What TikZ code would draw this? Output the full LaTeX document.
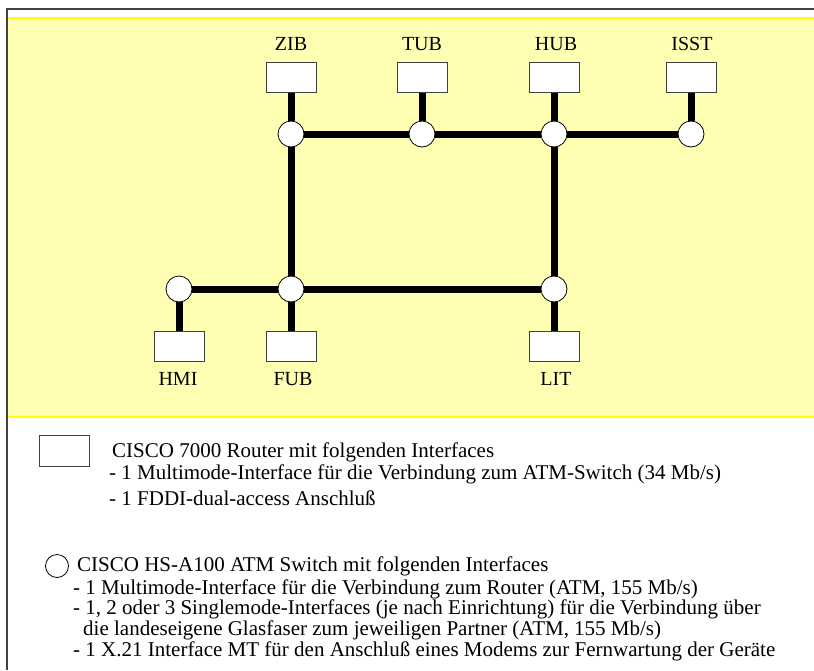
\documentclass[tikz,border=0pt]{standalone}
\usepackage{fontspec}
\setmainfont{Liberation Serif}
\usetikzlibrary{backgrounds}
\definecolor{padyellow}{HTML}{FFFFB4}
\definecolor{rimyellow}{HTML}{FFFF00}
\definecolor{framegray}{HTML}{404040}
\tikzset{
  router/.style={draw=framegray, fill=white, line width=0.8pt, inner sep=0pt,
    minimum width=50pt, minimum height=30pt},
  switch/.style={circle, draw=black, fill=white, line width=0.8pt, inner sep=0pt,
    minimum size=26pt},
  site/.style={anchor=base, inner sep=0pt, font=\fontsize{20}{22}\selectfont},
  keytext/.style={anchor=base west, inner sep=0pt, font=\fontsize{21}{23}\selectfont},
  link/.style={line width=7pt}
}

\begin{document}
\begin{tikzpicture}[x=1pt, y=-1pt]
  \useasboundingbox (0,0) rectangle (814,670);
  % routers and ATM switches of the ring
  \node[router] (zibR)  at (291,77) {};
  \node[router] (tubR)  at (422,77) {};
  \node[router] (hubR)  at (554,77) {};
  \node[router] (isstR) at (691,77) {};
  \node[switch] (zibS)  at (291,134) {};
  \node[switch] (tubS)  at (422,134) {};
  \node[switch] (hubS)  at (554,134) {};
  \node[switch] (isstS) at (691,134) {};
  \node[switch] (hmiS)  at (179,289) {};
  \node[switch] (fubS)  at (291,289) {};
  \node[switch] (litS)  at (554,289) {};
  \node[router] (hmiR)  at (179,346) {};
  \node[router] (fubR)  at (291,346) {};
  \node[router] (litR)  at (554,346) {};
  % site names
  \node[site] (zibT)  at (291,50) {ZIB};
  \node[site] (tubT)  at (422,50) {TUB};
  \node[site] (hubT)  at (556,50) {HUB};
  \node[site] (isstT) at (692,50) {ISST};
  \node[site] (hmiT)  at (178,385) {HMI};
  \node[site] (fubT)  at (293,385) {FUB};
  \node[site] (litT)  at (556,385) {LIT};
  % fibre links, behind the nodes
  \begin{scope}[on background layer]
    \fill[padyellow] (7,18) rectangle (814,417);
    \draw[rimyellow, line width=1.2pt] (7,18) -- (814,18);
    \draw[rimyellow, line width=1.2pt] (7,417) -- (814,417);
    \draw[link] (zibR) -- (zibS);
    \draw[link] (tubR) -- (tubS);
    \draw[link] (hubR) -- (hubS);
    \draw[link] (isstR) -- (isstS);
    \draw[link] (hmiR) -- (hmiS);
    \draw[link] (fubR) -- (fubS);
    \draw[link] (litR) -- (litS);
    \draw[link] (zibS) -- (tubS) -- (hubS) -- (isstS);
    \draw[link] (hmiS) -- (fubS) -- (litS);
    \draw[link] (zibS) -- (fubS);
    \draw[link] (hubS) -- (litS);
  \end{scope}
  % frame
  \draw[framegray, line width=1.5pt] (7,670) -- (7,9) -- (814,9);
  % legend
  \node[router, minimum width=50pt, minimum height=31pt] (keyR) at (64,451) {};
  \node[keytext] (keyR1) at (112,457) {CISCO 7000 Router mit folgenden Interfaces};
  \node[keytext] (keyR2) at (109,479) {- 1 Multimode-Interface für die Verbindung zum ATM-Switch (34 Mb/s)};
  \node[keytext] (keyR3) at (109,505) {- 1 FDDI-dual-access Anschluß};
  \node[switch, minimum size=23pt] (keyS) at (57,566) {};
  \node[keytext] (keyS1) at (77,571) {CISCO HS-A100 ATM Switch mit folgenden Interfaces};
  \node[keytext] (keyS2) at (73,594) {- 1 Multimode-Interface für die Verbindung zum Router (ATM, 155 Mb/s)};
  \node[keytext] (keyS3) at (73,614) {- 1, 2 oder 3 Singlemode-Interfaces (je nach Einrichtung) für die Verbindung über};
  \node[keytext] (keyS4) at (83,635) {die landeseigene Glasfaser zum jeweiligen Partner (ATM, 155 Mb/s)};
  \node[keytext] (keyS5) at (73,656) {- 1 X.21 Interface MT für den Anschluß eines Modems zur Fernwartung der Geräte};
\end{tikzpicture}
\end{document}
